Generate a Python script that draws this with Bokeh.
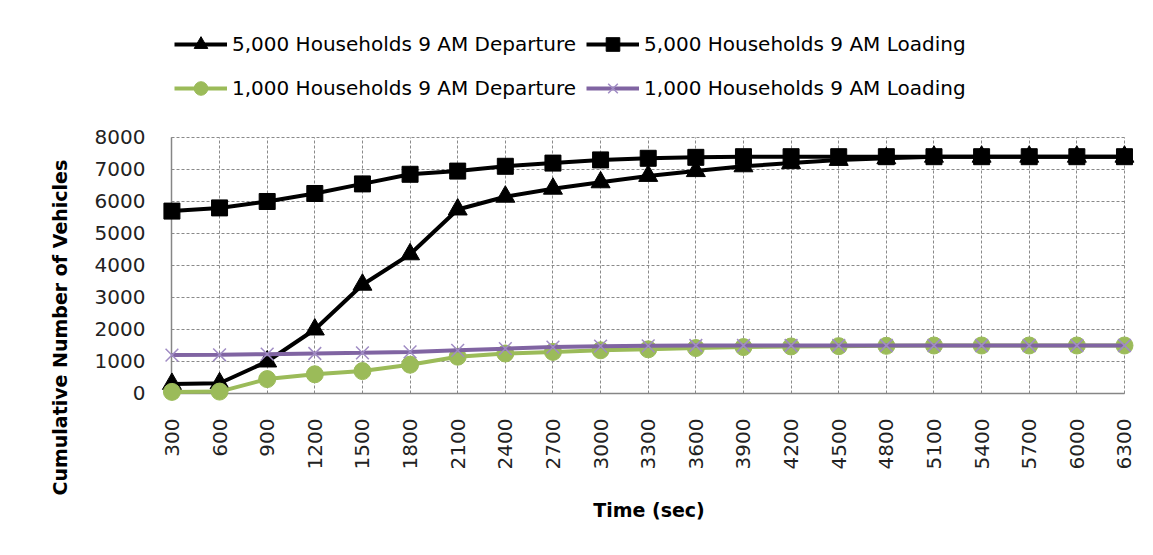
import math
from bokeh.plotting import figure
from bokeh.models import (ColumnDataSource, FixedTicker, Range1d, Legend, LegendItem,
                          Title, Grid)
from bokeh.embed import file_html
from bokeh.resources import INLINE

# ---- data ----
time_sec = [300, 600, 900, 1200, 1500, 1800, 2100, 2400, 2700, 3000, 3300,
            3600, 3900, 4200, 4500, 4800, 5100, 5400, 5700, 6000, 6300]
dep_5000 = [300, 320, 1000, 2000, 3400, 4350, 5750, 6150, 6400, 6600, 6800,
            6950, 7100, 7200, 7300, 7350, 7400, 7400, 7400, 7400, 7400]
load_5000 = [5700, 5800, 6000, 6250, 6550, 6850, 6950, 7100, 7200, 7300, 7350,
             7380, 7400, 7400, 7400, 7400, 7400, 7400, 7400, 7400, 7400]
dep_1000 = [50, 60, 450, 600, 700, 900, 1150, 1250, 1300, 1350, 1380,
            1420, 1450, 1470, 1480, 1490, 1500, 1500, 1500, 1500, 1500]
load_1000 = [1200, 1210, 1230, 1250, 1270, 1300, 1350, 1400, 1450, 1480, 1490,
             1500, 1500, 1500, 1500, 1500, 1500, 1500, 1500, 1500, 1500]
y_ticks = [0, 1000, 2000, 3000, 4000, 5000, 6000, 7000, 8000]
labels = ["5,000 Households 9 AM Departure", "5,000 Households 9 AM Loading",
          "1,000 Households 9 AM Departure", "1,000 Households 9 AM Loading"]

src = ColumnDataSource(dict(t=time_sec, d5=dep_5000, l5=load_5000,
                            d1=dep_1000, l1=load_1000))

FONT = "DejaVu Sans"
GREEN = "#9BBB59"
PURPLE = "#8064A2"
GRAY = "#868686"

x_lo, x_hi = time_sec[0], time_sec[-1]
y_lo, y_hi = y_ticks[0], y_ticks[-1]
# room around the data area (edge markers, legend area above the grid)
x_pad_l, x_pad_r = 72, 82
y_pad_b, y_pad_t = 375, 3656

p = figure(width=1137, height=539, output_backend="svg", toolbar_location=None,
           x_range=Range1d(x_lo - x_pad_l, x_hi + x_pad_r),
           y_range=Range1d(y_lo - y_pad_b, y_hi + y_pad_t))
p.min_border_left = 160
p.min_border_right = 0
p.min_border_top = 20
p.min_border_bottom = 134
p.outline_line_color = None
p.background_fill_color = "white"
p.border_fill_color = "white"

# grid (dashed) limited to the data area
p.xgrid.cross_bounds = (y_lo, y_hi)
p.ygrid.cross_bounds = (x_lo, x_hi)
for g in (p.xgrid[0], p.ygrid[0]):
    g.grid_line_color = "#8A8A8A"
    g.grid_line_dash = "3 2"
    g.grid_line_width = 1
# solid axis lines at y=0 and x=300
p.add_layout(Grid(dimension=1, ticker=FixedTicker(ticks=[y_lo]), cross_bounds=(x_lo, x_hi),
                  grid_line_color=GRAY, grid_line_width=1.5))
p.add_layout(Grid(dimension=0, ticker=FixedTicker(ticks=[x_lo]), cross_bounds=(y_lo, y_hi),
                  grid_line_color=GRAY, grid_line_width=1.5))

r1l = p.line("t", "d5", source=src, line_color="black", line_width=4)
r1m = p.scatter("t", "d5", source=src, marker="triangle", size=19,
                fill_color="black", line_color="black")
r2l = p.line("t", "l5", source=src, line_color="black", line_width=4)
r2m = p.scatter("t", "l5", source=src, marker="square", size=16,
                fill_color="black", line_color="black")
r3l = p.line("t", "d1", source=src, line_color=GREEN, line_width=4)
r3m = p.scatter("t", "d1", source=src, marker="circle", size=17,
                fill_color=GREEN, line_color=GREEN)
r4l = p.line("t", "l1", source=src, line_color=PURPLE, line_width=4)
r4m = p.scatter("t", "l1", source=src, marker="x", size=18,
                line_color="#A08CC4", line_width=1.5)

# axes
p.xaxis.ticker = FixedTicker(ticks=time_sec)
p.yaxis.ticker = FixedTicker(ticks=y_ticks)
p.xaxis.major_label_orientation = math.pi / 2
for ax in (p.xaxis[0], p.yaxis[0]):
    ax.axis_line_color = None
    ax.major_tick_line_color = None
    ax.minor_tick_line_color = None
    ax.major_tick_out = 0
    ax.major_tick_in = 0
    ax.major_label_text_font = FONT
    ax.major_label_text_font_size = "20px"
    ax.major_label_text_color = "#222222"
    ax.axis_label_text_font = FONT
    ax.axis_label_text_font_size = "19px"
    ax.axis_label_text_font_style = "bold"
    ax.axis_label_text_color = "black"
p.xaxis.axis_label = "Time (sec)"
p.yaxis.major_label_standoff = 15
p.xaxis.major_label_standoff = 13
p.xaxis.axis_label_standoff = 27

ytitle = Title(text="Cumulative Number of Vehicles", align="left", offset=-90,
               text_font=FONT, text_font_size="19px", text_font_style="bold",
               text_color="black", standoff=42)
p.add_layout(ytitle, "left")

legend = Legend(items=[
    LegendItem(label=labels[0], renderers=[r1l, r1m]),
    LegendItem(label=labels[1], renderers=[r2l, r2m]),
    LegendItem(label=labels[2], renderers=[r3l, r3m]),
    LegendItem(label=labels[3], renderers=[r4l, r4m]),
], ncols=2, orientation="horizontal", location=(14, 300))
legend.label_text_font = FONT
legend.label_text_font_size = "20px"
legend.label_text_color = "black"
legend.glyph_width = 53
legend.glyph_height = 34
legend.label_height = 34
legend.label_standoff = 5
legend.spacing = 10
legend.padding = 0
legend.margin = 0
legend.border_line_color = None
legend.background_fill_alpha = 0
p.add_layout(legend, "center")

open("out.html", "w").write(file_html(p, INLINE))
